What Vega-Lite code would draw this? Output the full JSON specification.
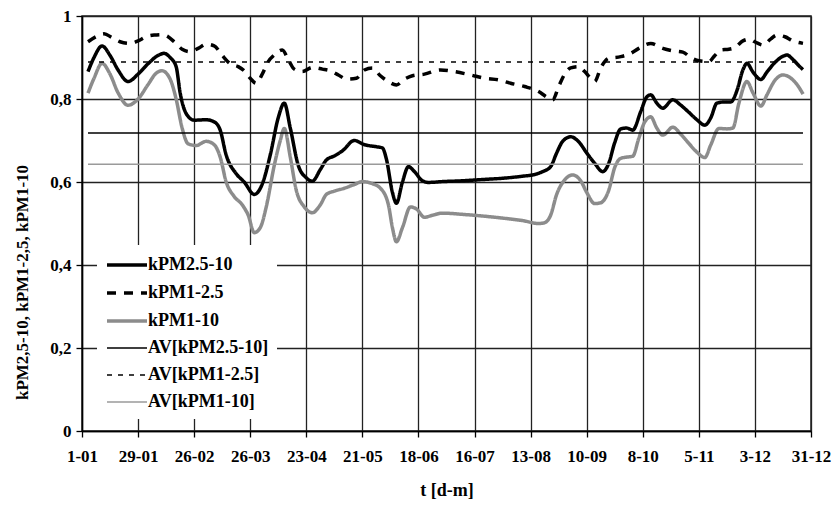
{
  "$schema": "https://vega.github.io/schema/vega-lite/v6.json",
  "autosize": {"type": "none"},
  "padding": {"left": 82, "top": 16, "right": 24, "bottom": 75},
  "width": 729,
  "height": 415,
  "background": "white",
  "datasets": {
    "k": [
      {"s":"kPM2.5-10","d":3,"v":0.866},{"s":"kPM2.5-10","d":6,"v":0.9},{"s":"kPM2.5-10","d":10,"v":0.928},{"s":"kPM2.5-10","d":14,"v":0.905},{"s":"kPM2.5-10","d":18,"v":0.87},{"s":"kPM2.5-10","d":23,"v":0.842},{"s":"kPM2.5-10","d":28,"v":0.86},{"s":"kPM2.5-10","d":33,"v":0.885},{"s":"kPM2.5-10","d":38,"v":0.905},{"s":"kPM2.5-10","d":41,"v":0.91},{"s":"kPM2.5-10","d":44,"v":0.9},{"s":"kPM2.5-10","d":47,"v":0.878},{"s":"kPM2.5-10","d":49,"v":0.815},{"s":"kPM2.5-10","d":52,"v":0.765},{"s":"kPM2.5-10","d":56,"v":0.749},{"s":"kPM2.5-10","d":62,"v":0.75},{"s":"kPM2.5-10","d":66,"v":0.745},{"s":"kPM2.5-10","d":69,"v":0.725},{"s":"kPM2.5-10","d":72,"v":0.665},{"s":"kPM2.5-10","d":77,"v":0.62},{"s":"kPM2.5-10","d":81,"v":0.6},{"s":"kPM2.5-10","d":86,"v":0.57},{"s":"kPM2.5-10","d":90,"v":0.595},{"s":"kPM2.5-10","d":94,"v":0.665},{"s":"kPM2.5-10","d":98,"v":0.755},{"s":"kPM2.5-10","d":101,"v":0.79},{"s":"kPM2.5-10","d":104,"v":0.73},{"s":"kPM2.5-10","d":108,"v":0.64},{"s":"kPM2.5-10","d":112,"v":0.61},{"s":"kPM2.5-10","d":115,"v":0.602},{"s":"kPM2.5-10","d":119,"v":0.63},{"s":"kPM2.5-10","d":122,"v":0.653},{"s":"kPM2.5-10","d":126,"v":0.663},{"s":"kPM2.5-10","d":130,"v":0.675},{"s":"kPM2.5-10","d":136,"v":0.7},{"s":"kPM2.5-10","d":141,"v":0.69},{"s":"kPM2.5-10","d":147,"v":0.685},{"s":"kPM2.5-10","d":150,"v":0.682},{"s":"kPM2.5-10","d":152,"v":0.655},{"s":"kPM2.5-10","d":155,"v":0.575},{"s":"kPM2.5-10","d":157,"v":0.549},{"s":"kPM2.5-10","d":160,"v":0.6},{"s":"kPM2.5-10","d":163,"v":0.637},{"s":"kPM2.5-10","d":166,"v":0.625},{"s":"kPM2.5-10","d":170,"v":0.603},{"s":"kPM2.5-10","d":173,"v":0.599},{"s":"kPM2.5-10","d":180,"v":0.601},{"s":"kPM2.5-10","d":190,"v":0.603},{"s":"kPM2.5-10","d":200,"v":0.606},{"s":"kPM2.5-10","d":210,"v":0.609},{"s":"kPM2.5-10","d":220,"v":0.614},{"s":"kPM2.5-10","d":226,"v":0.618},{"s":"kPM2.5-10","d":230,"v":0.625},{"s":"kPM2.5-10","d":234,"v":0.637},{"s":"kPM2.5-10","d":237,"v":0.67},{"s":"kPM2.5-10","d":240,"v":0.698},{"s":"kPM2.5-10","d":244,"v":0.709},{"s":"kPM2.5-10","d":248,"v":0.697},{"s":"kPM2.5-10","d":252,"v":0.67},{"s":"kPM2.5-10","d":256,"v":0.645},{"s":"kPM2.5-10","d":260,"v":0.625},{"s":"kPM2.5-10","d":263,"v":0.645},{"s":"kPM2.5-10","d":266,"v":0.695},{"s":"kPM2.5-10","d":269,"v":0.728},{"s":"kPM2.5-10","d":272,"v":0.73},{"s":"kPM2.5-10","d":275,"v":0.725},{"s":"kPM2.5-10","d":279,"v":0.77},{"s":"kPM2.5-10","d":282,"v":0.805},{"s":"kPM2.5-10","d":284,"v":0.81},{"s":"kPM2.5-10","d":287,"v":0.79},{"s":"kPM2.5-10","d":290,"v":0.778},{"s":"kPM2.5-10","d":295,"v":0.798},{"s":"kPM2.5-10","d":299,"v":0.785},{"s":"kPM2.5-10","d":303,"v":0.768},{"s":"kPM2.5-10","d":307,"v":0.75},{"s":"kPM2.5-10","d":311,"v":0.737},{"s":"kPM2.5-10","d":314,"v":0.755},{"s":"kPM2.5-10","d":317,"v":0.79},{"s":"kPM2.5-10","d":321,"v":0.793},{"s":"kPM2.5-10","d":324,"v":0.793},{"s":"kPM2.5-10","d":327,"v":0.82},{"s":"kPM2.5-10","d":330,"v":0.87},{"s":"kPM2.5-10","d":332,"v":0.886},{"s":"kPM2.5-10","d":335,"v":0.865},{"s":"kPM2.5-10","d":339,"v":0.847},{"s":"kPM2.5-10","d":342,"v":0.865},{"s":"kPM2.5-10","d":346,"v":0.888},{"s":"kPM2.5-10","d":350,"v":0.903},{"s":"kPM2.5-10","d":352,"v":0.906},{"s":"kPM2.5-10","d":355,"v":0.895},{"s":"kPM2.5-10","d":358,"v":0.88},{"s":"kPM2.5-10","d":360,"v":0.871},

      {"s":"kPM1-2.5","d":3,"v":0.938},{"s":"kPM1-2.5","d":7,"v":0.95},{"s":"kPM1-2.5","d":11,"v":0.957},{"s":"kPM1-2.5","d":15,"v":0.948},{"s":"kPM1-2.5","d":19,"v":0.938},{"s":"kPM1-2.5","d":24,"v":0.934},{"s":"kPM1-2.5","d":28,"v":0.94},{"s":"kPM1-2.5","d":32,"v":0.95},{"s":"kPM1-2.5","d":36,"v":0.954},{"s":"kPM1-2.5","d":40,"v":0.955},{"s":"kPM1-2.5","d":43,"v":0.95},{"s":"kPM1-2.5","d":46,"v":0.938},{"s":"kPM1-2.5","d":50,"v":0.92},{"s":"kPM1-2.5","d":54,"v":0.914},{"s":"kPM1-2.5","d":58,"v":0.922},{"s":"kPM1-2.5","d":62,"v":0.932},{"s":"kPM1-2.5","d":66,"v":0.928},{"s":"kPM1-2.5","d":70,"v":0.905},{"s":"kPM1-2.5","d":74,"v":0.885},{"s":"kPM1-2.5","d":78,"v":0.878},{"s":"kPM1-2.5","d":81,"v":0.868},{"s":"kPM1-2.5","d":84,"v":0.85},{"s":"kPM1-2.5","d":87,"v":0.838},{"s":"kPM1-2.5","d":90,"v":0.86},{"s":"kPM1-2.5","d":93,"v":0.89},{"s":"kPM1-2.5","d":96,"v":0.906},{"s":"kPM1-2.5","d":100,"v":0.918},{"s":"kPM1-2.5","d":103,"v":0.895},{"s":"kPM1-2.5","d":106,"v":0.872},{"s":"kPM1-2.5","d":110,"v":0.866},{"s":"kPM1-2.5","d":115,"v":0.876},{"s":"kPM1-2.5","d":120,"v":0.872},{"s":"kPM1-2.5","d":124,"v":0.868},{"s":"kPM1-2.5","d":128,"v":0.858},{"s":"kPM1-2.5","d":132,"v":0.848},{"s":"kPM1-2.5","d":137,"v":0.85},{"s":"kPM1-2.5","d":141,"v":0.87},{"s":"kPM1-2.5","d":145,"v":0.875},{"s":"kPM1-2.5","d":149,"v":0.856},{"s":"kPM1-2.5","d":153,"v":0.842},{"s":"kPM1-2.5","d":157,"v":0.834},{"s":"kPM1-2.5","d":161,"v":0.848},{"s":"kPM1-2.5","d":165,"v":0.856},{"s":"kPM1-2.5","d":171,"v":0.86},{"s":"kPM1-2.5","d":179,"v":0.87},{"s":"kPM1-2.5","d":186,"v":0.866},{"s":"kPM1-2.5","d":194,"v":0.858},{"s":"kPM1-2.5","d":201,"v":0.85},{"s":"kPM1-2.5","d":208,"v":0.846},{"s":"kPM1-2.5","d":214,"v":0.838},{"s":"kPM1-2.5","d":221,"v":0.83},{"s":"kPM1-2.5","d":228,"v":0.818},{"s":"kPM1-2.5","d":232,"v":0.805},{"s":"kPM1-2.5","d":235,"v":0.798},{"s":"kPM1-2.5","d":238,"v":0.83},{"s":"kPM1-2.5","d":241,"v":0.86},{"s":"kPM1-2.5","d":244,"v":0.875},{"s":"kPM1-2.5","d":248,"v":0.878},{"s":"kPM1-2.5","d":251,"v":0.866},{"s":"kPM1-2.5","d":254,"v":0.85},{"s":"kPM1-2.5","d":256,"v":0.842},{"s":"kPM1-2.5","d":259,"v":0.875},{"s":"kPM1-2.5","d":263,"v":0.898},{"s":"kPM1-2.5","d":269,"v":0.902},{"s":"kPM1-2.5","d":274,"v":0.91},{"s":"kPM1-2.5","d":278,"v":0.922},{"s":"kPM1-2.5","d":284,"v":0.934},{"s":"kPM1-2.5","d":290,"v":0.922},{"s":"kPM1-2.5","d":295,"v":0.916},{"s":"kPM1-2.5","d":300,"v":0.913},{"s":"kPM1-2.5","d":304,"v":0.9},{"s":"kPM1-2.5","d":308,"v":0.892},{"s":"kPM1-2.5","d":313,"v":0.89},{"s":"kPM1-2.5","d":316,"v":0.905},{"s":"kPM1-2.5","d":319,"v":0.918},{"s":"kPM1-2.5","d":323,"v":0.92},{"s":"kPM1-2.5","d":326,"v":0.924},{"s":"kPM1-2.5","d":330,"v":0.94},{"s":"kPM1-2.5","d":333,"v":0.944},{"s":"kPM1-2.5","d":337,"v":0.935},{"s":"kPM1-2.5","d":340,"v":0.93},{"s":"kPM1-2.5","d":344,"v":0.945},{"s":"kPM1-2.5","d":347,"v":0.954},{"s":"kPM1-2.5","d":351,"v":0.95},{"s":"kPM1-2.5","d":355,"v":0.94},{"s":"kPM1-2.5","d":360,"v":0.934},

      {"s":"kPM1-10","d":3,"v":0.814},{"s":"kPM1-10","d":6,"v":0.85},{"s":"kPM1-10","d":10,"v":0.886},{"s":"kPM1-10","d":14,"v":0.86},{"s":"kPM1-10","d":18,"v":0.815},{"s":"kPM1-10","d":23,"v":0.785},{"s":"kPM1-10","d":28,"v":0.8},{"s":"kPM1-10","d":33,"v":0.835},{"s":"kPM1-10","d":37,"v":0.862},{"s":"kPM1-10","d":40,"v":0.868},{"s":"kPM1-10","d":44,"v":0.848},{"s":"kPM1-10","d":47,"v":0.8},{"s":"kPM1-10","d":50,"v":0.73},{"s":"kPM1-10","d":53,"v":0.692},{"s":"kPM1-10","d":57,"v":0.688},{"s":"kPM1-10","d":62,"v":0.698},{"s":"kPM1-10","d":66,"v":0.69},{"s":"kPM1-10","d":69,"v":0.66},{"s":"kPM1-10","d":72,"v":0.6},{"s":"kPM1-10","d":76,"v":0.565},{"s":"kPM1-10","d":80,"v":0.545},{"s":"kPM1-10","d":83,"v":0.52},{"s":"kPM1-10","d":86,"v":0.478},{"s":"kPM1-10","d":89,"v":0.49},{"s":"kPM1-10","d":92,"v":0.54},{"s":"kPM1-10","d":96,"v":0.64},{"s":"kPM1-10","d":99,"v":0.7},{"s":"kPM1-10","d":101,"v":0.729},{"s":"kPM1-10","d":104,"v":0.66},{"s":"kPM1-10","d":107,"v":0.58},{"s":"kPM1-10","d":111,"v":0.54},{"s":"kPM1-10","d":115,"v":0.526},{"s":"kPM1-10","d":119,"v":0.545},{"s":"kPM1-10","d":122,"v":0.57},{"s":"kPM1-10","d":126,"v":0.578},{"s":"kPM1-10","d":131,"v":0.585},{"s":"kPM1-10","d":136,"v":0.594},{"s":"kPM1-10","d":140,"v":0.601},{"s":"kPM1-10","d":145,"v":0.596},{"s":"kPM1-10","d":149,"v":0.585},{"s":"kPM1-10","d":153,"v":0.545},{"s":"kPM1-10","d":155,"v":0.49},{"s":"kPM1-10","d":157,"v":0.456},{"s":"kPM1-10","d":160,"v":0.49},{"s":"kPM1-10","d":164,"v":0.54},{"s":"kPM1-10","d":167,"v":0.535},{"s":"kPM1-10","d":171,"v":0.515},{"s":"kPM1-10","d":175,"v":0.52},{"s":"kPM1-10","d":180,"v":0.525},{"s":"kPM1-10","d":190,"v":0.522},{"s":"kPM1-10","d":200,"v":0.518},{"s":"kPM1-10","d":210,"v":0.513},{"s":"kPM1-10","d":220,"v":0.507},{"s":"kPM1-10","d":228,"v":0.5},{"s":"kPM1-10","d":231,"v":0.502},{"s":"kPM1-10","d":234,"v":0.52},{"s":"kPM1-10","d":237,"v":0.57},{"s":"kPM1-10","d":241,"v":0.605},{"s":"kPM1-10","d":245,"v":0.617},{"s":"kPM1-10","d":249,"v":0.603},{"s":"kPM1-10","d":252,"v":0.575},{"s":"kPM1-10","d":256,"v":0.548},{"s":"kPM1-10","d":259,"v":0.55},{"s":"kPM1-10","d":263,"v":0.58},{"s":"kPM1-10","d":266,"v":0.635},{"s":"kPM1-10","d":269,"v":0.657},{"s":"kPM1-10","d":272,"v":0.66},{"s":"kPM1-10","d":275,"v":0.662},{"s":"kPM1-10","d":278,"v":0.705},{"s":"kPM1-10","d":281,"v":0.745},{"s":"kPM1-10","d":284,"v":0.757},{"s":"kPM1-10","d":287,"v":0.73},{"s":"kPM1-10","d":290,"v":0.713},{"s":"kPM1-10","d":295,"v":0.732},{"s":"kPM1-10","d":299,"v":0.715},{"s":"kPM1-10","d":303,"v":0.693},{"s":"kPM1-10","d":307,"v":0.672},{"s":"kPM1-10","d":311,"v":0.659},{"s":"kPM1-10","d":314,"v":0.69},{"s":"kPM1-10","d":318,"v":0.729},{"s":"kPM1-10","d":322,"v":0.728},{"s":"kPM1-10","d":325,"v":0.73},{"s":"kPM1-10","d":328,"v":0.79},{"s":"kPM1-10","d":332,"v":0.842},{"s":"kPM1-10","d":335,"v":0.815},{"s":"kPM1-10","d":339,"v":0.783},{"s":"kPM1-10","d":342,"v":0.81},{"s":"kPM1-10","d":346,"v":0.845},{"s":"kPM1-10","d":350,"v":0.858},{"s":"kPM1-10","d":354,"v":0.85},{"s":"kPM1-10","d":357,"v":0.835},{"s":"kPM1-10","d":360,"v":0.812},

      {"s":"AV[kPM2.5-10]","d":3,"v":0.718},{"s":"AV[kPM2.5-10]","d":360,"v":0.718},
      {"s":"AV[kPM1-2.5]","d":3,"v":0.889},{"s":"AV[kPM1-2.5]","d":360,"v":0.889},
      {"s":"AV[kPM1-10]","d":3,"v":0.643},{"s":"AV[kPM1-10]","d":360,"v":0.643}
    ]
  },
  "data": {"name": "k"},
  "mark": {"type": "line", "interpolate": "monotone", "strokeCap": "butt", "strokeJoin": "round"},
  "encoding": {
    "x": {
      "field": "d", "type": "quantitative",
      "scale": {"domain": [0, 364], "nice": false, "zero": false},
      "axis": {
        "values": [0, 28, 56, 84, 112, 140, 168, 196, 224, 252, 280, 308, 336, 364],
        "labelExpr": "['1-01','29-01','26-02','26-03','23-04','21-05','18-06','16-07','13-08','10-09','8-10','5-11','3-12','31-12'][round(datum.value/28)]",
        "labelFlush": false,
        "labelOverlap": false,
        "labelPadding": 11,
        "titlePadding": 17,
        "title": "t [d-m]"
      }
    },
    "y": {
      "field": "v", "type": "quantitative",
      "scale": {"domain": [0, 1], "nice": false},
      "axis": {
        "values": [0, 0.2, 0.4, 0.6, 0.8, 1],
        "labelExpr": "replace(format(datum.value, '.1~f'), '.', ',')",
        "labelFlush": false,
        "labelOverlap": false,
        "labelPadding": 5,
        "title": "kPM2,5-10, kPM1-2,5, kPM1-10",
        "titleFontSize": 17,
        "titleAngle": -90,
        "titleAlign": "center",
        "titleBaseline": "middle",
        "titleX": -60,
        "titleY": 266
      }
    },
    "color": {
      "field": "s", "type": "nominal",
      "scale": {
        "domain": ["kPM2.5-10", "kPM1-2.5", "kPM1-10", "AV[kPM2.5-10]", "AV[kPM1-2.5]", "AV[kPM1-10]"],
        "range": ["#000000", "#000000", "#8c8c8c", "#000000", "#000000", "#9a9a9a"]
      },
      "legend": {
        "title": null,
        "orient": "none",
        "legendX": 15,
        "legendY": 229,
        "fillColor": "white",
        "padding": 8,
        "symbolType": "M-2,0H2",
        "symbolSize": 400,
        "symbolOffset": 10,
        "labelFont": "Liberation Serif",
        "labelFontWeight": "bold",
        "labelFontSize": 18,
        "labelColor": "#000",
        "labelLimit": 300,
        "labelOffset": 9,
        "rowPadding": 7
      }
    },
    "strokeDash": {
      "field": "s", "type": "nominal",
      "scale": {
        "domain": ["kPM2.5-10", "kPM1-2.5", "kPM1-10", "AV[kPM2.5-10]", "AV[kPM1-2.5]", "AV[kPM1-10]"],
        "range": [[1, 0], [9, 8], [1, 0], [1, 0], [5, 6], [1, 0]]
      },
      "legend": {"title": null}
    },
    "strokeWidth": {
      "field": "s", "type": "ordinal",
      "scale": {
        "type": "ordinal",
        "domain": ["kPM2.5-10", "kPM1-2.5", "kPM1-10", "AV[kPM2.5-10]", "AV[kPM1-2.5]", "AV[kPM1-10]"],
        "range": [3.5, 3.5, 3.5, 1.5, 1.5, 1.5]
      },
      "legend": {"title": null}
    }
  },
  "config": {
    "view": {"stroke": "#222", "strokeWidth": 1.5},
    "axis": {
      "grid": true,
      "gridColor": "#222",
      "gridWidth": 1.3,
      "gridOpacity": 1,
      "domainColor": "#000",
      "domainWidth": 1.5,
      "tickColor": "#000",
      "tickWidth": 1.3,
      "tickSize": 6,
      "labelFont": "Liberation Serif",
      "labelFontWeight": "bold",
      "labelFontSize": 17,
      "labelColor": "#000",
      "titleFont": "Liberation Serif",
      "titleFontWeight": "bold",
      "titleFontSize": 18,
      "titleColor": "#000"
    }
  }
}
